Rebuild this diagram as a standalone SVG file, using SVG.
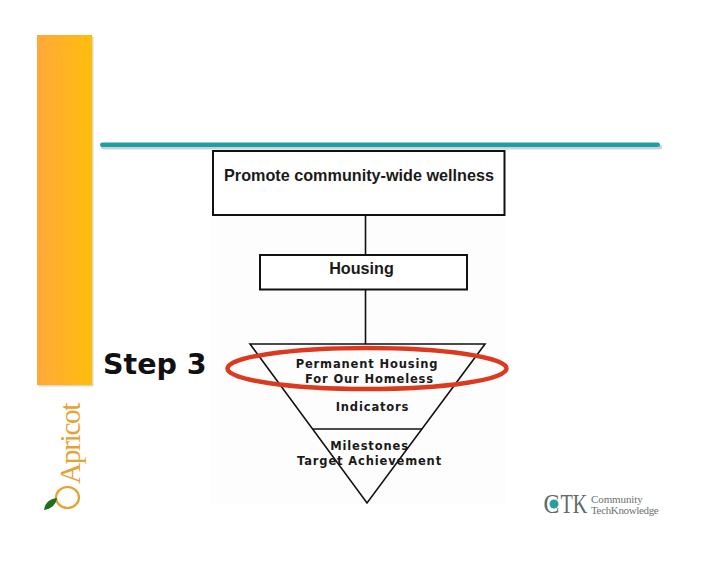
<svg xmlns="http://www.w3.org/2000/svg" width="728" height="563" viewBox="0 0 728 563">
<style>
.box{fill:#fff;stroke:#111;stroke-width:2}
.ln{fill:none;stroke:#111;stroke-width:1.6}
.a{font-family:"Liberation Sans",Arial,sans-serif;font-weight:700;font-size:16.200px;fill:#1a1a1a;text-anchor:middle}
.v{font-family:"DejaVu Sans",Verdana,sans-serif;font-weight:700;font-size:11.500px;letter-spacing:.85px;fill:#1a1a1a;text-anchor:middle}
.s{font-family:"Liberation Serif","Times New Roman",serif}
</style>
<defs>
<linearGradient id="bar" x1="0" x2="1" y1="0" y2="0"><stop offset="0" stop-color="#ffa83c"/><stop offset="1" stop-color="#ffbe0a"/></linearGradient>
</defs>
<rect width="728" height="563" fill="#fff"/>
<g id="decor">
<rect x="211" y="150" width="295" height="355" fill="#fdfdfd"/>
<rect x="38.500" y="36.500" width="55" height="350" fill="#d9d9c8"/>
<rect x="37" y="35" width="55" height="350" fill="url(#bar)"/>
<rect x="101" y="144.500" width="561" height="5" rx="2.500" fill="#c9d3d3"/>
<rect x="100" y="142.500" width="560" height="4.500" rx="2.200" fill="#1f9fa3"/>
</g>
<g id="connectors">
<line class="ln" x1="365.500" y1="215" x2="365.500" y2="255"/>
<line class="ln" x1="365.500" y1="289" x2="365.500" y2="344"/>
</g>
<g id="node-wellness">
<rect class="box" x="213" y="151" width="291.500" height="64"/>
<text class="a" x="359" y="180.500">Promote community-wide wellness</text>
</g>
<g id="node-housing">
<rect class="box" x="260" y="255" width="207" height="34.500"/>
<text class="a" x="361.500" y="273.500">Housing</text>
</g>
<g id="step-label">
<text x="103" y="373.500" font-family="'DejaVu Sans',Verdana,sans-serif" font-weight="700" font-size="28.500px" fill="#111">Step 3</text>
</g>
<g id="node-triangle">
<polygon class="ln" points="250,344 485,344 367,503"/>
<line class="ln" x1="313" y1="429" x2="422" y2="429"/>
<text class="v" x="367" y="368">Permanent Housing</text>
<text class="v" x="369.500" y="383">For Our Homeless</text>
<text class="v" x="372.500" y="411">Indicators</text>
<text class="v" x="369.500" y="450">Milestones</text>
<text class="v" x="369.500" y="465">Target Achievement</text>
</g>
<g id="highlight">
<ellipse cx="367" cy="368.500" rx="139.500" ry="20.500" fill="none" stroke="#dc3a1e" stroke-width="4.500"/>
</g>
<g id="apricot-logo">
<text class="s" transform="translate(80,484) rotate(-90) scale(.98,1)" font-size="30px" fill="#e5a233" letter-spacing="-1.400">Apricot</text>
<ellipse cx="67.500" cy="497.500" rx="11.500" ry="10.500" fill="none" stroke="#e5a233" stroke-width="2.200"/>
<path d="M44,510 C45,503 49,499 57,498 C56,505 51,509 44,510Z" fill="#1f6e1c"/>
</g>
<g id="ctk-logo">
<text transform="translate(543.500,513) scale(.85,1)" class="s" font-size="28px" fill="#5f6b6b">C</text>
<circle cx="554" cy="504" r="4.500" fill="#2a9d9f"/>
<text transform="translate(560.500,513) scale(.72,1)" class="s" font-size="28px" fill="#5f6b6b">TK</text>
<text x="591" y="503" class="s" font-size="11px" letter-spacing="-.1" fill="#6b7272">Community</text>
<text x="591" y="514" class="s" font-size="11px" letter-spacing="-.35" fill="#6b7272">TechKnowledge</text>
</g>
</svg>
